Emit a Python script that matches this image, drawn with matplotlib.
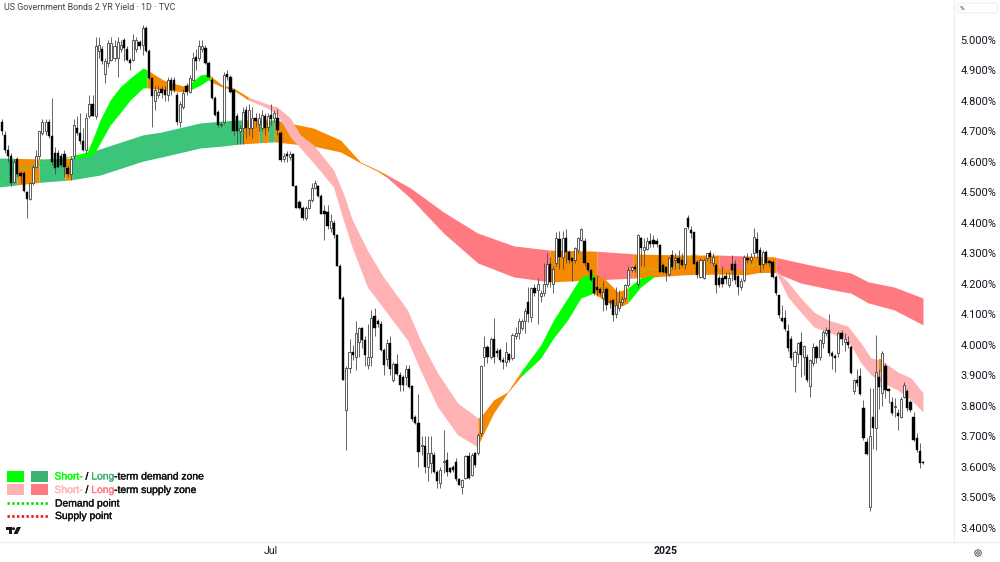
import matplotlib
matplotlib.use('Agg')
import matplotlib.pyplot as plt
import matplotlib.patheffects as pe
from matplotlib.patches import Polygon, Circle, FancyBboxPatch
import numpy as np

# Daily candles, US 2Y yield in percent
opens = [
    4.73, 4.69, 4.64, 4.62, 4.535, 4.61, 4.565, 4.565, 4.50, 4.48,
    4.53, 4.585, 4.62, 4.695, 4.70, 4.73, 4.685, 4.63, 4.63, 4.62,
    4.625, 4.58, 4.56, 4.62, 4.71, 4.695, 4.67, 4.64, 4.75, 4.79,
    4.75, 4.965, 4.97, 4.89, 4.925, 4.935, 4.94, 4.94, 4.97, 5.0,
    4.97, 4.935, 4.935, 4.97, 4.995, 4.985, 5.04, 4.965, 4.875, 4.80,
    4.82, 4.84, 4.835, 4.82, 4.87, 4.87, 4.82, 4.73, 4.78, 4.85,
    4.83, 4.87, 4.945, 4.94, 4.97, 4.975, 4.925, 4.87, 4.81, 4.765,
    4.72, 4.73, 4.89, 4.88, 4.835, 4.75, 4.70, 4.71, 4.77, 4.71,
    4.71, 4.745, 4.725, 4.71, 4.75, 4.715, 4.755, 4.745, 4.745, 4.695,
    4.61, 4.625, 4.615, 4.625, 4.52, 4.47, 4.45, 4.415, 4.45, 4.475,
    4.515, 4.52, 4.49, 4.44, 4.435, 4.385, 4.40, 4.36, 4.26, 4.153,
    3.787, 3.923, 3.978, 3.96, 4.01, 4.055, 4.015, 3.935, 3.96, 4.095,
    4.08, 4.07, 3.985, 3.955, 4.005, 3.885, 3.937, 3.90, 3.894, 3.894,
    3.92, 3.865, 3.765, 3.743, 3.668, 3.668, 3.60, 3.612, 3.64, 3.585,
    3.546, 3.615, 3.622, 3.595, 3.60, 3.617, 3.56, 3.535, 3.563, 3.635,
    3.575, 3.645, 3.645, 3.71, 3.96, 3.995, 3.96, 4.02, 3.98, 3.985,
    3.95, 3.945, 3.97, 3.957, 4.03, 4.04, 4.055, 4.08, 4.142, 4.093,
    4.186, 4.18, 4.16, 4.17, 4.20, 4.265, 4.20, 4.27, 4.346, 4.29,
    4.35, 4.305, 4.285, 4.28, 4.31, 4.345, 4.34, 4.268, 4.246, 4.22,
    4.19, 4.185, 4.155, 4.185, 4.14, 4.147, 4.10, 4.12, 4.14, 4.153,
    4.197, 4.245, 4.255, 4.20, 4.35, 4.31, 4.315, 4.34, 4.345, 4.34,
    4.327, 4.262, 4.257, 4.232, 4.295, 4.28, 4.284, 4.278, 4.267, 4.415,
    4.377, 4.369, 4.273, 4.224, 4.22, 4.285, 4.30, 4.27, 4.262, 4.22,
    4.22, 4.225, 4.197, 4.267, 4.267, 4.226, 4.19, 4.213, 4.285, 4.28,
    4.30, 4.349, 4.311, 4.265, 4.305, 4.275, 4.273, 4.224, 4.163, 4.09,
    4.087, 4.047, 4.021, 3.93, 3.97, 4.011, 3.96, 3.961, 3.865, 3.94,
    3.994, 3.96, 4.005, 4.04, 4.049, 3.974, 3.965, 3.974, 4.038, 4.01,
    4.01, 3.994, 3.85, 3.885, 3.898, 3.792, 3.683, 3.47, 3.765, 3.727,
    3.896, 3.841, 3.931, 3.855, 3.814, 3.795, 3.776, 3.763, 3.828, 3.85,
    3.814, 3.763, 3.694, 3.653, 3.616,
]
highs = [
    4.74, 4.70, 4.655, 4.63, 4.61, 4.615, 4.57, 4.57, 4.505, 4.535,
    4.59, 4.64, 4.70, 4.74, 4.74, 4.74, 4.81, 4.65, 4.64, 4.63,
    4.64, 4.59, 4.62, 4.74, 4.75, 4.76, 4.71, 4.76, 4.82, 4.82,
    5.01, 5.01, 4.98, 4.94, 5.0, 5.01, 5.0, 5.01, 5.0, 5.005,
    4.98, 4.94, 5.02, 5.01, 5.0, 5.05, 5.045, 4.97, 4.88, 4.85,
    4.85, 4.85, 4.85, 4.88, 4.88, 4.88, 4.83, 4.80, 4.84, 4.86,
    4.885, 4.96, 4.97, 5.0, 5.0, 4.985, 4.93, 4.88, 4.815, 4.77,
    4.73, 4.895, 4.90, 4.885, 4.84, 4.76, 4.72, 4.78, 4.785, 4.79,
    4.78, 4.76, 4.76, 4.77, 4.76, 4.76, 4.79, 4.77, 4.775, 4.70,
    4.63, 4.635, 4.635, 4.63, 4.525, 4.475, 4.455, 4.455, 4.48, 4.53,
    4.54, 4.525, 4.495, 4.46, 4.46, 4.43, 4.41, 4.365, 4.265, 4.16,
    3.93, 4.02, 4.0, 4.08, 4.06, 4.06, 4.03, 4.07, 4.115, 4.12,
    4.085, 4.08, 3.99, 4.02, 4.03, 3.945, 3.97, 3.91, 3.90, 3.935,
    3.935, 3.87, 3.77, 3.84, 3.70, 3.70, 3.70, 3.70, 3.65, 3.59,
    3.60, 3.72, 3.65, 3.60, 3.605, 3.63, 3.565, 3.56, 3.64, 3.65,
    3.645, 3.65, 3.71, 3.935, 4.03, 4.0, 4.025, 4.09, 3.99, 3.99,
    3.96, 4.01, 3.975, 4.04, 4.06, 4.09, 4.085, 4.12, 4.19, 4.19,
    4.20, 4.22, 4.18, 4.27, 4.30, 4.29, 4.26, 4.37, 4.375, 4.375,
    4.38, 4.31, 4.29, 4.32, 4.355, 4.385, 4.35, 4.27, 4.25, 4.225,
    4.23, 4.19, 4.21, 4.19, 4.15, 4.15, 4.19, 4.18, 4.16, 4.20,
    4.26, 4.26, 4.265, 4.365, 4.355, 4.35, 4.355, 4.366, 4.36, 4.35,
    4.33, 4.27, 4.26, 4.29, 4.31, 4.30, 4.31, 4.30, 4.385, 4.425,
    4.39, 4.37, 4.28, 4.285, 4.285, 4.30, 4.31, 4.30, 4.27, 4.23,
    4.26, 4.24, 4.24, 4.295, 4.28, 4.23, 4.22, 4.295, 4.30, 4.30,
    4.382, 4.37, 4.32, 4.31, 4.31, 4.28, 4.28, 4.23, 4.165, 4.13,
    4.115, 4.07, 4.03, 3.985, 4.01, 4.043, 4.0, 3.97, 3.955, 4.005,
    4.0, 4.02, 4.05, 4.06, 4.103, 3.98, 3.97, 4.045, 4.05, 4.04,
    4.03, 4.0, 3.89, 3.92, 3.925, 3.82, 3.695, 3.858, 3.858, 4.033,
    3.92, 3.98, 3.94, 3.86, 3.83, 3.825, 3.79, 3.83, 3.88, 3.855,
    3.82, 3.78, 3.71, 3.68, 3.62,
]
lows = [
    4.69, 4.63, 4.60, 4.52, 4.53, 4.55, 4.53, 4.50, 4.415, 4.475,
    4.525, 4.58, 4.61, 4.69, 4.69, 4.68, 4.59, 4.56, 4.58, 4.585,
    4.55, 4.55, 4.54, 4.61, 4.69, 4.66, 4.635, 4.63, 4.745, 4.75,
    4.74, 4.94, 4.92, 4.86, 4.91, 4.93, 4.93, 4.88, 4.96, 4.93,
    4.93, 4.90, 4.93, 4.96, 4.97, 4.95, 4.96, 4.87, 4.715, 4.77,
    4.81, 4.81, 4.80, 4.80, 4.82, 4.83, 4.72, 4.715, 4.775, 4.82,
    4.825, 4.865, 4.90, 4.93, 4.96, 4.92, 4.875, 4.805, 4.75, 4.715,
    4.715, 4.725, 4.87, 4.825, 4.69, 4.66, 4.66, 4.66, 4.68, 4.69,
    4.68, 4.715, 4.70, 4.70, 4.69, 4.70, 4.72, 4.73, 4.69, 4.60,
    4.60, 4.60, 4.605, 4.52, 4.45, 4.445, 4.41, 4.41, 4.445, 4.47,
    4.51, 4.485, 4.43, 4.345, 4.38, 4.37, 4.35, 4.26, 4.15, 3.885,
    3.656, 3.907, 3.95, 3.918, 3.96, 3.99, 3.93, 3.92, 3.93, 4.03,
    4.06, 3.98, 3.90, 3.93, 3.90, 3.88, 3.90, 3.85, 3.85, 3.87,
    3.86, 3.75, 3.74, 3.60, 3.64, 3.58, 3.555, 3.58, 3.58, 3.53,
    3.53, 3.58, 3.57, 3.58, 3.585, 3.555, 3.54, 3.51, 3.56, 3.56,
    3.57, 3.60, 3.64, 3.70, 3.93, 3.94, 3.955, 3.94, 3.96, 3.945,
    3.92, 3.93, 3.945, 3.95, 4.02, 4.02, 4.05, 4.04, 4.075, 4.075,
    4.16, 4.07, 4.14, 4.16, 4.19, 4.19, 4.17, 4.26, 4.25, 4.25,
    4.27, 4.27, 4.21, 4.27, 4.30, 4.34, 4.26, 4.24, 4.21, 4.165,
    4.16, 4.165, 4.11, 4.115, 4.12, 4.08, 4.09, 4.11, 4.13, 4.145,
    4.19, 4.24, 4.24, 4.19, 4.26, 4.26, 4.31, 4.32, 4.32, 4.32,
    4.24, 4.235, 4.21, 4.225, 4.25, 4.25, 4.25, 4.255, 4.25, 4.38,
    4.35, 4.267, 4.22, 4.22, 4.215, 4.275, 4.27, 4.26, 4.17, 4.19,
    4.19, 4.20, 4.19, 4.21, 4.20, 4.165, 4.18, 4.205, 4.27, 4.27,
    4.29, 4.285, 4.24, 4.25, 4.265, 4.26, 4.22, 4.165, 4.09, 4.075,
    4.045, 3.98, 3.95, 3.847, 3.94, 3.895, 3.90, 3.88, 3.83, 3.93,
    3.94, 3.95, 3.99, 4.03, 3.965, 3.92, 3.91, 3.96, 4.0, 3.98,
    3.99, 3.905, 3.84, 3.865, 3.835, 3.69, 3.64, 3.455, 3.66, 3.655,
    3.79, 3.80, 3.825, 3.81, 3.77, 3.765, 3.72, 3.76, 3.825, 3.785,
    3.78, 3.685, 3.65, 3.595, 3.61,
]
closes = [
    4.70, 4.64, 4.62, 4.53, 4.60, 4.56, 4.555, 4.505, 4.48, 4.53,
    4.585, 4.62, 4.70, 4.73, 4.73, 4.685, 4.60, 4.58, 4.585, 4.59,
    4.585, 4.56, 4.61, 4.72, 4.695, 4.67, 4.64, 4.745, 4.79, 4.75,
    4.98, 4.985, 4.93, 4.93, 4.99, 4.99, 4.98, 4.995, 4.985, 4.975,
    4.935, 4.925, 5.0, 5.0, 4.98, 5.04, 4.965, 4.875, 4.815, 4.835,
    4.83, 4.825, 4.82, 4.87, 4.835, 4.835, 4.73, 4.79, 4.825, 4.83,
    4.875, 4.94, 4.93, 4.98, 4.98, 4.925, 4.88, 4.81, 4.755, 4.72,
    4.725, 4.885, 4.88, 4.83, 4.70, 4.70, 4.71, 4.765, 4.71, 4.77,
    4.745, 4.735, 4.745, 4.755, 4.71, 4.75, 4.74, 4.76, 4.705, 4.605,
    4.62, 4.62, 4.625, 4.52, 4.45, 4.45, 4.415, 4.45, 4.475, 4.515,
    4.53, 4.49, 4.43, 4.43, 4.39, 4.405, 4.36, 4.26, 4.15, 3.885,
    3.924, 3.978, 3.967, 4.04, 4.055, 4.015, 3.967, 3.96, 4.09, 4.055,
    4.07, 3.985, 3.935, 4.005, 3.92, 3.937, 3.905, 3.87, 3.87, 3.92,
    3.863, 3.757, 3.745, 3.65, 3.672, 3.60, 3.645, 3.645, 3.585, 3.555,
    3.59, 3.62, 3.585, 3.585, 3.59, 3.56, 3.54, 3.557, 3.635, 3.563,
    3.64, 3.605, 3.705, 3.93, 3.995, 3.96, 4.02, 3.96, 3.975, 3.95,
    3.945, 3.978, 3.95, 4.033, 4.04, 4.08, 4.08, 4.11, 4.10, 4.186,
    4.17, 4.20, 4.17, 4.20, 4.265, 4.205, 4.25, 4.35, 4.29, 4.35,
    4.305, 4.28, 4.275, 4.317, 4.35, 4.38, 4.268, 4.246, 4.213, 4.17,
    4.18, 4.17, 4.175, 4.13, 4.145, 4.098, 4.13, 4.14, 4.15, 4.197,
    4.245, 4.255, 4.25, 4.36, 4.317, 4.32, 4.34, 4.33, 4.33, 4.33,
    4.24, 4.24, 4.235, 4.284, 4.256, 4.285, 4.268, 4.262, 4.382, 4.388,
    4.366, 4.267, 4.229, 4.278, 4.278, 4.30, 4.29, 4.29, 4.196, 4.196,
    4.20, 4.215, 4.22, 4.245, 4.213, 4.189, 4.21, 4.289, 4.28, 4.29,
    4.355, 4.30, 4.262, 4.305, 4.27, 4.27, 4.224, 4.17, 4.098, 4.08,
    4.051, 3.989, 3.956, 3.978, 4.007, 3.967, 3.998, 3.885, 3.95, 3.994,
    3.956, 4.015, 4.043, 4.05, 3.974, 3.965, 3.958, 4.038, 4.02, 4.02,
    4.0, 3.909, 3.885, 3.875, 3.839, 3.694, 3.642, 3.70, 3.727, 3.912,
    3.863, 3.975, 3.852, 3.85, 3.776, 3.80, 3.768, 3.823, 3.869, 3.792,
    3.787, 3.688, 3.656, 3.612, 3.613,
]

# Long-term zone edges, read at these candle numbers
long_idx = [-1, 12.9, 21.8, 31.4, 45.1, 50.9, 63.4, 70.1, 76.1, 87, 99.5, 108.1, 114.5, 119.9, 123.1,
            130.4, 141, 151.9, 163.4, 174.9, 188.9, 203, 217.7, 228.5, 246.4, 255, 265.6, 271, 276.5, 284.8, 294]
long_top = [4.613, 4.610, 4.613, 4.643, 4.689, 4.698, 4.728, 4.734, 4.738, 4.738, 4.711, 4.672, 4.600, 4.574, 4.557,
            4.515, 4.436, 4.367, 4.325, 4.311, 4.308, 4.298, 4.295, 4.295, 4.289, 4.269, 4.246, 4.236, 4.207, 4.19, 4.154]
long_bot = [4.518, 4.534, 4.541, 4.557, 4.603, 4.616, 4.646, 4.652, 4.659, 4.666, 4.652, 4.633, 4.597, 4.570, 4.548,
            4.482, 4.367, 4.269, 4.223, 4.207, 4.213, 4.22, 4.23, 4.233, 4.239, 4.203, 4.18, 4.17, 4.138, 4.115, 4.066]

# Short-term zone edges
short_idx = [23.4, 27.3, 29.2, 31.4, 34.6, 37.8, 41, 45.1, 46.4, 51.5, 57.9, 60.2, 63.4, 65.9, 67.5, 70.4, 73.9,
             78.7, 84.8, 88, 92.1, 95.3, 99.5, 105.9, 109, 111.9, 116.7, 121.8, 129.5, 133.6, 139.1, 145.5, 151.9,
             152.8, 157, 161.4, 165.6, 172, 176.1, 180.6, 184.8, 188.9, 192.1, 196.6, 199.8, 203.9, 208.1, 212.6,
             228.5, 237.5, 242.3, 247, 250.9, 255, 259.2, 263.7, 270, 274.2, 277.4, 280.6, 286, 290.2, 294]
short_top = [4.623, 4.633, 4.679, 4.738, 4.803, 4.846, 4.875, 4.908, 4.902, 4.869, 4.849, 4.859, 4.885, 4.889, 4.875,
             4.852, 4.843, 4.813, 4.79, 4.78, 4.744, 4.689, 4.656, 4.574, 4.498, 4.41, 4.311, 4.223, 4.115, 4.016,
             3.908, 3.81, 3.761, 3.764, 3.82, 3.846, 3.911, 4.0, 4.082, 4.154, 4.223, 4.236, 4.22, 4.174, 4.187, 4.22,
             4.23, 4.243, 4.252, 4.246, 4.272, 4.246, 4.207, 4.154, 4.108, 4.082, 4.062, 4.007, 3.957, 3.951, 3.911,
             3.892, 3.843]
short_bot = [4.613, 4.616, 4.623, 4.662, 4.721, 4.761, 4.803, 4.843, 4.843, 4.836, 4.83, 4.836, 4.852, 4.869, 4.859,
             4.846, 4.836, 4.803, 4.777, 4.754, 4.682, 4.646, 4.597, 4.518, 4.41, 4.318, 4.19, 4.121, 4.016, 3.918,
             3.797, 3.705, 3.666, 3.689, 3.777, 3.843, 3.895, 3.957, 4.023, 4.082, 4.154, 4.170, 4.148, 4.121, 4.138,
             4.19, 4.223, 4.236, 4.233, 4.23, 4.239, 4.239, 4.157, 4.108, 4.059, 4.043, 4.016, 3.941, 3.902, 3.879,
             3.852, 3.82, 3.78]

GREEN = '#00ff00'
SEA_GREEN = '#3cc47a'
PINK = '#ffb2b4'
RED = '#ff7a80'
ORANGE = '#f58a00'

# (from candle, to candle, colour) along each zone
long_spans = [(-1, 4.9, SEA_GREEN), (4.9, 11.9, ORANGE), (11.9, 20.2, SEA_GREEN), (20.2, 22.3, ORANGE),
              (22.3, 77.1, SEA_GREEN), (77.1, 82.2, ORANGE), (82.2, 83.2, SEA_GREEN), (83.2, 85.1, ORANGE),
              (85.1, 87, SEA_GREEN), (87, 122.5, ORANGE), (122.5, 174.9, RED), (174.9, 189.9, ORANGE),
              (189.9, 201.4, RED), (201.4, 228.9, ORANGE), (228.9, 236.8, RED), (236.8, 247, ORANGE), (247, 294, RED)]
short_spans = [(23.4, 46.4, GREEN), (46.4, 60.2, ORANGE), (60.2, 66.5, GREEN), (66.5, 78.7, ORANGE),
               (78.7, 152, PINK), (152, 165.6, ORANGE), (165.6, 188.9, GREEN), (188.9, 199.8, ORANGE),
               (199.8, 208.1, GREEN), (208.1, 247, ORANGE), (247, 294, PINK)]

# Thin short-term traces that run inside the long-term zone
trace_early_idx = [-1, 1.7, 5.9, 15.4, 23.4]
trace_early_val = [4.518, 4.548, 4.577, 4.603, 4.62]
trace_mid_idx = [203.9, 207.1, 211.3, 214.5, 220.5, 222]
trace_mid_val = [4.236, 4.252, 4.243, 4.256, 4.295, 4.295]
trace_late_idx = [237.5, 241.6, 245.5]
trace_late_val = [4.252, 4.269, 4.269]

# April patch where the short-term zone flips for a couple of candles
flip_idx = [279.9, 280.7]
flip_top = [3.955, 3.955]
flip_bot = [3.911, 3.911]

yield_ticks = [3.4, 3.5, 3.6, 3.7, 3.8, 3.9, 4.0, 4.1, 4.2, 4.3, 4.4, 4.5, 4.6, 4.7, 4.8, 4.9, 5.0]
date_idx = [86, 212]
date_labels = ['Jul', '2025']

PANEL_LINE = '#eceef2'
TEXT = '#131722'
LEGEND_INK = '#111111'


def fill_zone(ax, idx, top, bot, spans):
    idx = np.array(idx, dtype=float)
    for start, end, color in spans:
        inner = idx[(idx > start) & (idx < end)]
        xs = np.concatenate([[start], inner, [end]])
        ax.fill_between(xs, np.interp(xs, idx, top), np.interp(xs, idx, bot),
                        color=color, lw=0, zorder=2)


def draw_candles(ax):
    xs = np.arange(len(opens))
    o, h, l, c = map(np.array, (opens, highs, lows, closes))
    ax.vlines(xs, l, h, color='#4a4a4a', lw=0.6, zorder=3)
    up = c >= o
    ax.bar(xs[up], (c - o)[up], bottom=o[up], width=0.66, facecolor='white',
           edgecolor='#333333', linewidth=0.55, zorder=4)
    ax.bar(xs[~up], (o - c)[~up], bottom=c[~up], width=0.72, facecolor='black',
           edgecolor='black', linewidth=0.3, zorder=4)


def legend_text(ov, x, y, label, color):
    return ov.text(x, y, label, color=color, fontsize=7.45, va='center', ha='left',
                   family='Liberation Sans',
                   path_effects=[pe.withStroke(linewidth=0.25, foreground=color)])


def colored_text(ov, x, y, parts):
    # lay out coloured pieces one after the other on a line
    renderer = ov.figure.canvas.get_renderer()
    for label, color in parts:
        t = legend_text(ov, x, y, label, color)
        x += t.get_window_extent(renderer).width


fig = plt.figure(figsize=(10, 5.62), dpi=100)
ax = fig.add_axes([0, 20 / 562, 954 / 1000, 542 / 562])

fill_zone(ax, long_idx, long_top, long_bot, long_spans)
fill_zone(ax, short_idx, short_top, short_bot, short_spans)
ax.fill_between(flip_idx, flip_top, flip_bot, color=ORANGE, lw=0, zorder=2)
ax.plot(trace_early_idx, trace_early_val, color='#35e05a', lw=0.6, zorder=2)
ax.plot(trace_mid_idx, trace_mid_val, color='#8fd020', lw=0.6, zorder=2)
ax.plot(trace_late_idx, trace_late_val, color='#8fd020', lw=0.6, zorder=2)
draw_candles(ax)

ax.set_xlim(-0.543, 303.9)
ax.set_ylim(3.354, 5.1311)
ax.yaxis.tick_right()
ax.set_yticks(yield_ticks)
ax.set_yticklabels(['%.3f%%' % v for v in yield_ticks], fontsize=7.9, color=TEXT, family='Roboto')
ax.set_xticks(date_idx)
ax.set_xticklabels(date_labels, fontsize=7.6, color=TEXT, family='Roboto')
ax.get_xticklabels()[1].set_fontweight('bold')
ax.tick_params(axis='y', length=0, pad=4.5)
ax.tick_params(axis='x', length=0, pad=3)
for side in ['top', 'left']:
    ax.spines[side].set_visible(False)
for side in ['right', 'bottom']:
    ax.spines[side].set_color(PANEL_LINE)
    ax.spines[side].set_linewidth(1.0)

# Overlay in pixel units for the header, legend and corner marks
ov = fig.add_axes([0, 0, 1, 1], zorder=5)
ov.set_xlim(0, 1000)
ov.set_ylim(562, 0)
ov.axis('off')
ov.patch.set_alpha(0)

ov.text(4, 7.5, 'US Government Bonds 2 YR Yield · 1D · TVC', fontsize=6.4, color='#3c4048',
        va='center', family='Roboto')
ov.plot([954, 1000], [542, 542], color=PANEL_LINE, lw=1.0)
ov.add_patch(FancyBboxPatch((958, 3), 39, 10, boxstyle='round,pad=0,rounding_size=2',
                            fc='white', ec=PANEL_LINE, lw=0.7))
ov.text(960, 8, '%', fontsize=4.6, color=TEXT, va='center', family='Roboto')
ov.add_patch(Circle((978, 553), 3.2, fc='none', ec='#50535e', lw=0.7))
ov.add_patch(Circle((978, 553), 1.3, fc='none', ec='#50535e', lw=0.7))

ov.fill_between([7, 24], 471, 481.5, color=GREEN, lw=0)
ov.fill_between([31, 48], 471, 481.5, color='#3cb371', lw=0)
ov.fill_between([7, 24], 484, 494.5, color=PINK, lw=0)
ov.fill_between([31, 48], 484, 494.5, color=RED, lw=0)
ov.plot([7, 48], [503, 503], color='#00e000', lw=1.9, dashes=(0.9, 0.9), dash_capstyle='butt')
ov.plot([7, 48], [516, 516], color='#f01010', lw=1.9, dashes=(0.9, 0.9), dash_capstyle='butt')

fig.canvas.draw()
colored_text(ov, 54.5, 476.5, [('Short-', GREEN), (' / ', LEGEND_INK), ('Long', '#3cb371'),
                               ('-term demand zone', LEGEND_INK)])
colored_text(ov, 54.5, 490, [('Short-', PINK), (' / ', LEGEND_INK), ('Long', RED),
                             ('-term supply zone', LEGEND_INK)])
legend_text(ov, 55, 503.5, 'Demand point', LEGEND_INK)
legend_text(ov, 55, 516, 'Supply point', LEGEND_INK)

# Corner logo
ov.add_patch(Polygon([(6, 527), (12, 527), (12, 534), (9, 534), (9, 530), (6, 530)], fc='#131722', lw=0))
ov.add_patch(Circle((13.5, 528.7), 1.5, fc='#131722', lw=0))
ov.add_patch(Polygon([(17, 527), (21, 527), (17.5, 534), (13.5, 534)], fc='#131722', lw=0))

fig.savefig('out.png', dpi=100)
